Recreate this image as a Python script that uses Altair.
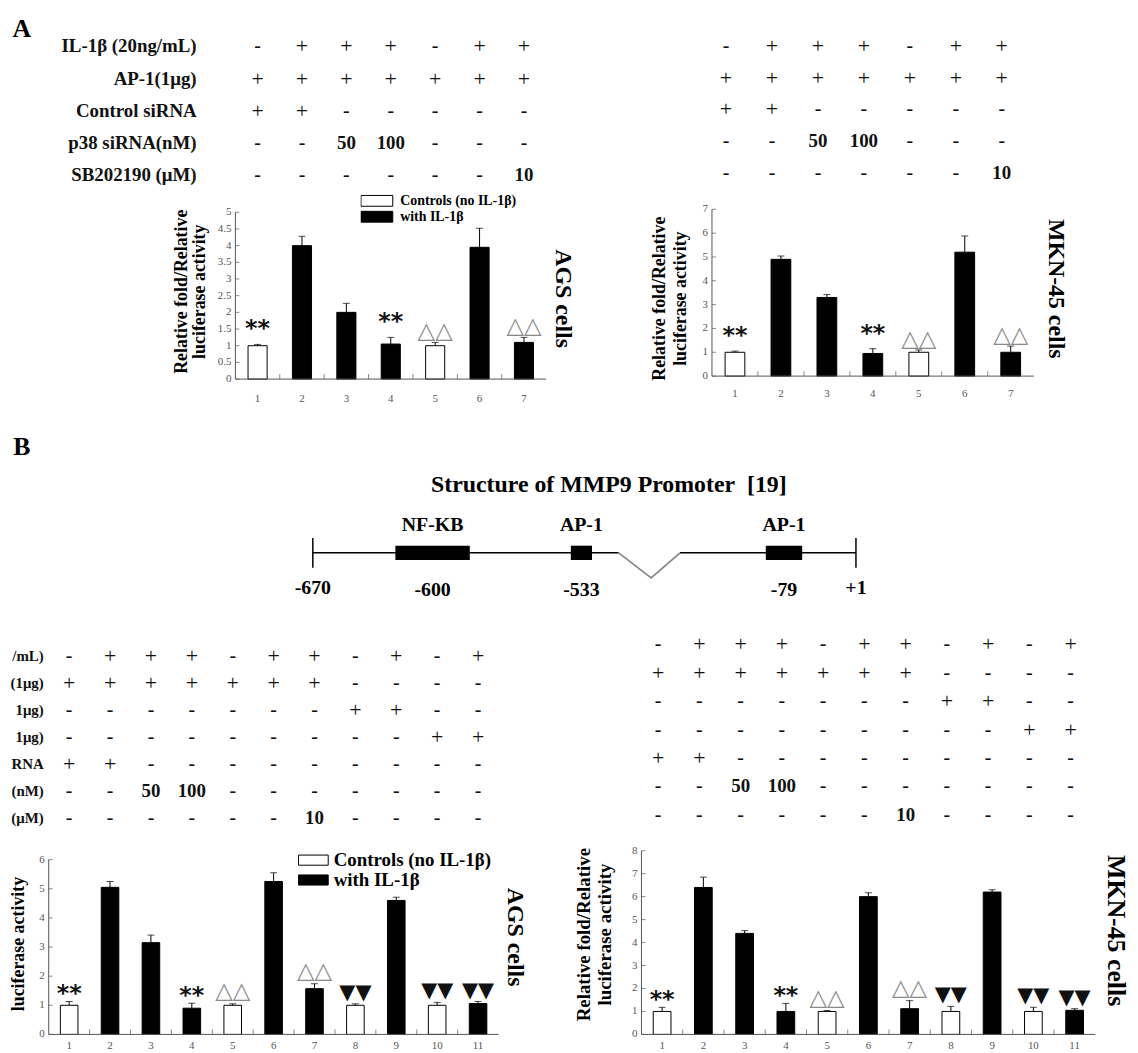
import altair as alt
import pandas as pd

W, H = 1130, 1045
SERIF = 'Liberation Serif'
SYM = 'DejaVu Sans'
AX = '#555'
BAR_W = 0.43  # bar width in lane units (style)

GROUPS = ['Controls (no IL-1β)', 'with IL-1β']
FILLS = ['white', 'black']
C, T = GROUPS

# ---------------- Panel A (AP-1 reporter) ----------------
A_lanes = [1, 2, 3, 4, 5, 6, 7]
A_groups = [C, T, T, T, C, T, T]
A_signif = ['**', '', '', '**', '△△', '', '△△']
A_AGS_mean = [1.0, 4.0, 2.0, 1.05, 1.0, 3.95, 1.1]
A_AGS_err = [0.04, 0.28, 0.27, 0.20, 0.10, 0.57, 0.15]
A_MKN_mean = [1.0, 4.9, 3.3, 0.95, 1.0, 5.2, 1.0]
A_MKN_err = [0.05, 0.14, 0.12, 0.20, 0.10, 0.68, 0.26]
A_AGS_ticks = [0, 0.5, 1, 1.5, 2, 2.5, 3, 3.5, 4, 4.5, 5]
A_MKN_ticks = [0, 1, 2, 3, 4, 5, 6, 7]
A_rows = ['IL-1β (20ng/mL)', 'AP-1(1μg)', 'Control siRNA', 'p38 siRNA(nM)', 'SB202190 (μM)']
A_table = [
    ['-', '+', '+', '+', '-', '+', '+'],
    ['+', '+', '+', '+', '+', '+', '+'],
    ['+', '+', '-', '-', '-', '-', '-'],
    ['-', '-', '50', '100', '-', '-', '-'],
    ['-', '-', '-', '-', '-', '-', '10'],
]

# ---------------- Panel B (MMP9 promoter) ----------------
B_lanes = [1, 2, 3, 4, 5, 6, 7, 8, 9, 10, 11]
B_groups = [C, T, T, T, C, T, T, C, T, C, T]
B_signif = ['**', '', '', '**', '△△', '', '△△', '▼▼', '', '▼▼', '▼▼']
B_AGS_mean = [1.0, 5.05, 3.15, 0.9, 1.0, 5.25, 1.57, 1.0, 4.6, 1.0, 1.06]
B_AGS_err = [0.13, 0.20, 0.26, 0.17, 0.05, 0.30, 0.17, 0.05, 0.11, 0.10, 0.07]
B_MKN_mean = [1.0, 6.4, 4.4, 1.0, 1.0, 6.0, 1.12, 1.0, 6.2, 1.0, 1.05]
B_MKN_err = [0.18, 0.45, 0.12, 0.35, 0.04, 0.17, 0.35, 0.22, 0.10, 0.18, 0.07]
B_AGS_ticks = [0, 1, 2, 3, 4, 5, 6]
B_MKN_ticks = [0, 1, 2, 3, 4, 5, 6, 7, 8]
B_rows = ['/mL)', '(1μg)', '1μg)', '1μg)', 'RNA', '(nM)', '(μM)']
B_table = [
    ['-', '+', '+', '+', '-', '+', '+', '-', '+', '-', '+'],
    ['+', '+', '+', '+', '+', '+', '+', '-', '-', '-', '-'],
    ['-', '-', '-', '-', '-', '-', '-', '+', '+', '-', '-'],
    ['-', '-', '-', '-', '-', '-', '-', '-', '-', '+', '+'],
    ['+', '+', '-', '-', '-', '-', '-', '-', '-', '-', '-'],
    ['-', '-', '50', '100', '-', '-', '-', '-', '-', '-', '-'],
    ['-', '-', '-', '-', '-', '-', '10', '-', '-', '-', '-'],
]

# ---------------- Promoter schematic (schematic units 0..100) ----------------
P_title = 'Structure of MMP9 Promoter\u00a0 [19]'
P_elements = ['NF-KB', 'AP-1', 'AP-1']
P_start = [15.2, 47.5, 83.4]
P_end = [28.9, 51.4, 90.1]
P_sites = ['-600', '-533', '-79']
P_ends_x = [0, 100]
P_ends = ['-670', '+1']
P_line_start = [0, 67.6]
P_line_end = [56.3, 100]
P_break_x = [56.3, 62.3, 67.6]
P_break_y = [0, -2.1, 0]

Y_TITLE = ['Relative fold/Relative', 'luciferase activity']


def one(text=''):
    return pd.DataFrame({'t': [text]})


def panel(lanes, groups, mean, err, signif, ticks, table, row_labels, side, cfg):
    x0, x1 = lanes[0] - 0.5, lanes[-1] + 0.5
    ymax = ticks[-1]
    xs = alt.Scale(domain=[x0, x1], range=cfg['x_range'], nice=False, zero=False)
    ys = alt.Scale(domain=[0, ymax], range=cfg['y_range'], nice=False, zero=True)

    def X(f):
        return alt.X(f, type='quantitative', scale=xs, axis=None)

    def Y(f):
        return alt.Y(f, type='quantitative', scale=ys, axis=None)

    XD0 = alt.XDatum(x0, type='quantitative', scale=xs, axis=None)
    XD1 = alt.XDatum(x1, type='quantitative', scale=xs, axis=None)
    YD0 = alt.YDatum(0, type='quantitative', scale=ys, axis=None)
    YDM = alt.YDatum(ymax / 2, type='quantitative', scale=ys, axis=None)

    df = pd.DataFrame({'lane': lanes, 'group': groups, 'mean': mean, 'err': err, 'signif': signif})
    base = alt.Chart(df).transform_calculate(
        top='datum.mean + datum.err',
        xa='datum.lane - %f' % (BAR_W / 2),
        xb='datum.lane + %f' % (BAR_W / 2),
    )
    bars = base.mark_rect(stroke='black', strokeWidth=1).encode(
        x=X('xa'), x2='xb', y=Y('mean'), y2=alt.Y2Datum(0),
        fill=alt.Fill('group:N', scale=alt.Scale(domain=GROUPS, range=FILLS), legend=cfg['legend']),
    )
    rule = base.mark_rule(color='black', strokeWidth=1).encode(x=X('lane'), y=Y('mean'), y2='top:Q')
    cap = base.mark_tick(color='black', thickness=1, size=7, orient='horizontal').encode(
        x=X('lane'), y=Y('top'))
    stars = base.transform_filter("datum.signif == '**'").mark_text(
        font=SYM, fontWeight='bold', fontSize=24, baseline='alphabetic', dy=cfg['star_dy'], color='#111'
    ).encode(x=X('lane'), y=Y('top'), text='signif:N')
    opent = base.transform_filter("datum.signif == '△△'").mark_text(
        font=SYM, fontSize=23, baseline='alphabetic', dy=cfg['tri_dy'], color='#8a8a8a'
    ).encode(x=X('lane'), y=Y('top'), text='signif:N')
    layers = [bars, rule, cap, stars, opent]
    if '▼▼' in signif:
        layers.append(base.transform_filter("datum.signif == '▼▼'").mark_text(
            font=SYM, fontSize=21, baseline='alphabetic', dy=-5, color='#111'
        ).encode(x=X('lane'), y=Y('top'), text='signif:N'))

    # ---- axes drawn through the panel scales ----
    tick_df = pd.DataFrame({'v': ticks, 'lab': ['%g' % t for t in ticks]})
    y_line = alt.Chart(one()).mark_rule(color=AX, strokeWidth=1).encode(
        x=XD0, y=YD0, y2=alt.Y2Datum(ymax))
    x_line = alt.Chart(one()).mark_rule(color=AX, strokeWidth=1).encode(
        x=XD0, x2=alt.X2Datum(x1), y=YD0)
    y_ticks = alt.Chart(tick_df).mark_tick(orient='horizontal', size=4, thickness=1, color=AX,
                                           xOffset=2).encode(x=XD0, y=Y('v'))
    y_labs = alt.Chart(tick_df).mark_text(align='right', baseline='middle', dx=-4, font=SERIF,
                                          fontSize=11, color=AX).encode(x=XD0, y=Y('v'), text='lab:N')
    x_ticks = alt.Chart(df).transform_filter('datum.lane < %d' % lanes[-1]).transform_calculate(
        b='datum.lane + 0.5').mark_tick(orient='vertical', size=5, thickness=1, color=AX,
                                        yOffset=-2.5).encode(x=X('b'), y=YD0)
    x_labs = alt.Chart(df).mark_text(baseline='middle', dy=cfg['xl_dy'], font=SERIF, fontSize=11,
                                     color=AX).encode(x=X('lane'), y=YD0, text='lane:N')
    layers += [y_line, x_line, y_ticks, y_labs, x_ticks, x_labs]
    for i, line in enumerate(cfg['title']):
        layers.append(alt.Chart(one(line)).mark_text(
            angle=270, font=SERIF, fontWeight='bold', fontSize=cfg['tfs'], baseline='middle',
            align='center', dy=-cfg['tdist'][i], dx=cfg['t_dx'], color='black'
        ).encode(x=XD0, y=YDM, text='t:N'))
    layers.append(alt.Chart(one(side)).mark_text(
        angle=90, font=SERIF, fontWeight='bold', fontSize=cfg['sfs'], baseline='middle',
        align='center', dy=-cfg['side_d'], dx=cfg['side_dx'], color='black'
    ).encode(x=XD1, y=YDM, text='t:N'))
    bar_group = alt.layer(*layers)

    # ---- treatment table above the bars ----
    recs = []
    for r, row in enumerate(table):
        for lane, v in zip(lanes, row):
            recs.append({'lane': lane, 'row': r, 'v': v})
    tdf = pd.DataFrame(recs)
    tys = alt.Scale(domain=[0, len(table) - 1], range=cfg['t_range'], nice=False, zero=False)
    TY = alt.Y('row:Q', scale=tys, axis=None)
    tlayers = [
        alt.Chart(tdf).transform_filter("datum.v == '+'").mark_text(
            font=SERIF, fontSize=22, color='#111', dx=cfg['t_coldx'], baseline='middle'
        ).encode(x=X('lane'), y=TY, text='v:N'),
        alt.Chart(tdf).transform_filter("datum.v == '-'").mark_text(
            font=SERIF, fontSize=20, fontWeight='bold', color='#111', dx=cfg['t_coldx'], baseline='middle'
        ).encode(x=X('lane'), y=TY, text='v:N'),
        alt.Chart(tdf).transform_filter("datum.v != '+' && datum.v != '-'").mark_text(
            font=SERIF, fontSize=19, fontWeight='bold', color='#111', dx=cfg['t_coldx'], baseline='middle'
        ).encode(x=X('lane'), y=TY, text='v:N'),
    ]
    if row_labels:
        ldf = pd.DataFrame({'row': list(range(len(row_labels))), 'label': row_labels})
        tlayers.append(alt.Chart(ldf).mark_text(
            font=SERIF, fontSize=cfg['lab_fs'], fontWeight='bold', color='#111', align='right',
            baseline='middle', dx=cfg['lab_dx']
        ).encode(x=XD0, y=TY, text='label:N'))
    if cfg.get('letter'):
        tlayers.append(alt.Chart(one(cfg['letter'])).mark_text(
            font=SERIF, fontSize=26, fontWeight='bold', color='black', align='center',
            baseline='middle', dx=cfg['letter_dx'], dy=cfg['letter_dy']
        ).encode(x=XD0, y=alt.YDatum(0, type='quantitative', scale=tys, axis=None), text='t:N'))
    tab_group = alt.layer(*tlayers)
    return alt.layer(bar_group, tab_group).resolve_scale(y='independent')


legend_A = alt.Legend(title=None, orient='none', legendX=355, legendY=183, direction='vertical',
                      symbolType='M-1,-0.34H1V0.34H-1Z', symbolSize=1024, symbolStrokeColor='black',
                      symbolStrokeWidth=1, symbolOpacity=1, labelFont=SERIF, labelFontWeight='bold',
                      labelFontSize=14, labelColor='black', labelOffset=7, rowPadding=1,
                      clipHeight=15, padding=0, labelLimit=400)
legend_B = alt.Legend(title=None, orient='none', legendX=292, legendY=845, direction='vertical',
                      symbolType='M-1,-0.34H1V0.34H-1Z', symbolSize=900, symbolStrokeColor='black',
                      symbolStrokeWidth=1, symbolOpacity=1, labelFont=SERIF, labelFontWeight='bold',
                      labelFontSize=19, labelColor='black', labelOffset=5, rowPadding=0,
                      clipHeight=19, padding=0, labelLimit=400)

pAL = panel(A_lanes, A_groups, A_AGS_mean, A_AGS_err, A_signif, A_AGS_ticks, A_table, A_rows,
            'AGS cells', dict(
                x_range=[229, 542], y_range=[370, 202], legend=legend_A, star_dy=-8, tri_dy=-4,
                xl_dy=20, title=Y_TITLE, tfs=18, tdist=[54, 36], t_dx=4,
                sfs=24, side_d=17, side_dx=3,
                t_range=[35, 165], t_coldx=0, lab_dx=-39, lab_fs=19,
                letter='A', letter_dx=-215, letter_dy=-18))
pAR = panel(A_lanes, A_groups, A_MKN_mean, A_MKN_err, A_signif, A_MKN_ticks, A_table, None,
            'MKN-45 cells', dict(
                x_range=[709, 1033], y_range=[367, 199], legend=None, star_dy=-8, tri_dy=-4,
                xl_dy=18, title=Y_TITLE, tfs=18, tdist=[52, 31], t_dx=-6,
                sfs=24, side_d=22, side_dx=-4,
                t_range=[35, 162], t_coldx=-9, lab_dx=0, lab_fs=19))
pBL = panel(B_lanes, B_groups, B_AGS_mean, B_AGS_err, B_signif, B_AGS_ticks, B_table, B_rows,
            'AGS cells', dict(
                x_range=[41, 494], y_range=[1030, 854], legend=legend_B, star_dy=0, tri_dy=-6,
                xl_dy=12, title=['luciferase activity'], tfs=18, tdist=[30], t_dx=3,
                sfs=24, side_d=17, side_dx=-10,
                t_range=[649, 812], t_coldx=0, lab_dx=-5, lab_fs=15,
                letter='B', letter_dx=-27, letter_dy=-211))
pBR = panel(B_lanes, B_groups, B_MKN_mean, B_MKN_err, B_signif, B_MKN_ticks, B_table, None,
            'MKN-45 cells', dict(
                x_range=[638, 1095], y_range=[1030, 845], legend=None, star_dy=0, tri_dy=-6,
                xl_dy=12, title=Y_TITLE, tfs=19, tdist=[58, 37], t_dx=8,
                sfs=26, side_d=21, side_dx=-12,
                t_range=[637, 809], t_coldx=-4, lab_dx=0, lab_fs=18))

# ---------------- promoter schematic ----------------
dxs = alt.Scale(domain=[0, 100], range=[307, 854], nice=False, zero=False)
dys = alt.Scale(domain=[-3, 3], range=[581, 509], nice=False, zero=False)


def DY(v):
    return alt.YDatum(v, type='quantitative', scale=dys, axis=None)


seg_df = pd.DataFrame({'s': P_line_start, 'e': P_line_end})
box_df = pd.DataFrame({'name': P_elements, 's': P_start, 'e': P_end, 'site': P_sites})
end_df = pd.DataFrame({'x': P_ends_x, 'lab': P_ends})
brk_df = pd.DataFrame({'bx': P_break_x, 'by': P_break_y, 'i': list(range(len(P_break_x)))})

d_line = alt.Chart(seg_df).mark_rule(color='black', strokeWidth=1.5).encode(
    x=alt.X('s:Q', scale=dxs, axis=None), x2='e:Q', y=DY(0))
d_break = alt.Chart(brk_df).mark_line(color='#888', strokeWidth=1.8).encode(
    x=alt.X('bx:Q', scale=dxs, axis=None), y=alt.Y('by:Q', scale=dys, axis=None), order='i:O')
d_ends = alt.Chart(end_df).mark_rule(color='black', strokeWidth=1.5).encode(
    x=alt.X('x:Q', scale=dxs, axis=None), y=DY(-1.25), y2=alt.Y2Datum(1.25))
d_boxes = alt.Chart(box_df).mark_rect(color='black').encode(
    x=alt.X('s:Q', scale=dxs, axis=None), x2='e:Q', y=DY(-0.6), y2=alt.Y2Datum(0.6))
d_names = alt.Chart(box_df).transform_calculate(c='(datum.s + datum.e) / 2').mark_text(
    font=SERIF, fontSize=20, fontWeight='bold', baseline='alphabetic', dy=-15, color='black'
).encode(x=alt.X('c:Q', scale=dxs, axis=None), y=DY(0.6), text='name:N')
d_sites = alt.Chart(box_df).transform_calculate(c='(datum.s + datum.e) / 2').mark_text(
    font=SERIF, fontSize=20, fontWeight='bold', baseline='middle', dy=37, color='black'
).encode(x=alt.X('c:Q', scale=dxs, axis=None), y=DY(0), text='site:N')
d_endlab = alt.Chart(end_df).mark_text(
    font=SERIF, fontSize=20, fontWeight='bold', baseline='middle', dy=35, color='black'
).encode(x=alt.X('x:Q', scale=dxs, axis=None), y=DY(0), text='lab:N')
d_title = alt.Chart(one(P_title)).mark_text(
    font=SERIF, fontSize=24, fontWeight='bold', baseline='middle', align='center', dy=-32,
    color='black'
).encode(x=alt.XDatum(54.5, type='quantitative', scale=dxs, axis=None), y=DY(3), text='t:N')
diagram = alt.layer(d_line, d_break, d_ends, d_boxes, d_names, d_sites, d_endlab, d_title)

chart = alt.layer(pAL, pAR, diagram, pBL, pBR).resolve_scale(
    x='independent', y='independent', fill='independent'
).properties(
    width=W, height=H, autosize=alt.AutoSizeParams(type='none'), padding=0, background='white'
).configure_view(stroke=None)

chart.save('out.html', embed_options={'renderer': 'svg', 'actions': False})
